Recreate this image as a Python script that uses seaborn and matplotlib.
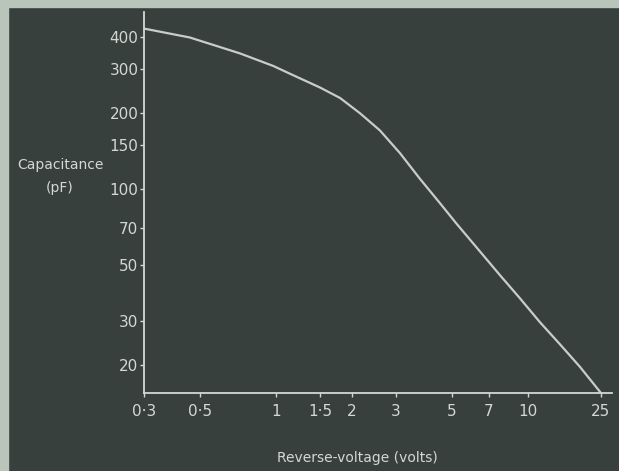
import numpy as np
import matplotlib
matplotlib.use("Agg")
import matplotlib.pyplot as plt
import seaborn as sns
from matplotlib.patches import Rectangle

# values (volts, pF)
voltage = [0.3, 0.456, 0.72, 0.98, 1.14, 1.5, 1.8, 2.16, 2.59, 3.11, 3.73,
           4.48, 5.21, 7.76, 9.32, 11.65, 14.96, 19.2, 25.0]
capacitance = [434, 400, 346, 308, 287, 253, 230, 200, 171, 139, 110,
               88, 73, 45.5, 36.8, 29.6, 24.2, 19.7, 15.5]

xticks = [0.3, 0.5, 1, 1.5, 2, 3, 5, 7, 10, 25]
xticklabels = ["0·3", "0·5", "1", "1·5", "2", "3", "5", "7", "10", "25"]
yticks = [20, 30, 50, 70, 100, 150, 200, 300, 400]
yticklabels = ["20", "30", "50", "70", "100", "150", "200", "300", "400"]

bg = "#37403c"
fg = "#d4d8d4"

sns.set_style("white")
plt.rcParams["font.family"] = ["DejaVu Sans"]

fig = plt.figure(figsize=(6.19, 4.71), dpi=100, facecolor=bg)
# pale card edge along the left and top of the scan
fig.patches.append(Rectangle((0, 0), 8 / 619, 1, transform=fig.transFigure,
                             color="#b9c4bb", zorder=0))
fig.patches.append(Rectangle((0, 1 - 7 / 471), 1, 7 / 471, transform=fig.transFigure,
                             color="#b9c4bb", zorder=0))

ax = fig.add_axes([144 / 619, 1 - 393 / 471, (612 - 144) / 619, (393 - 12) / 471])
ax.set_facecolor(bg)

sns.lineplot(x=voltage, y=capacitance, ax=ax, color="#c9cdc9", linewidth=1.6)


# the voltage axis is log up to 10 V, then squeezed to fit 25 V on the plate
def fwd(v):
    lv = np.log10(np.maximum(v, 1e-9))
    return np.where(lv <= 1, lv, 1 + 0.73 * (lv - 1))


def inv(u):
    return np.where(u <= 1, 10 ** u, 10 ** (1 + (u - 1) / 0.73))


ax.set_xscale("function", functions=(fwd, inv))
ax.set_yscale("log")
ax.set_xlim(0.3, 28.7)
ax.set_ylim(15.5, 505)

ax.set_xticks(xticks)
ax.set_xticklabels(xticklabels)
ax.set_yticks(yticks)
ax.set_yticklabels(yticklabels)
ax.minorticks_off()

for side in ["top", "right"]:
    ax.spines[side].set_visible(False)
for side in ["left", "bottom"]:
    ax.spines[side].set_color(fg)
    ax.spines[side].set_linewidth(1.3)

ax.tick_params(axis="both", colors=fg, labelcolor=fg, labelsize=11,
               length=3, width=1, direction="out", left=True, bottom=True)
ax.tick_params(axis="y", pad=1)
ax.tick_params(axis="x", pad=5)

fig.text(60 / 619, 1 - 165 / 471, "Capacitance", color=fg, fontsize=10,
         ha="center", va="center")
fig.text(60 / 619, 1 - 188 / 471, "(pF)", color=fg, fontsize=10,
         ha="center", va="center")
fig.text(357 / 619, 1 - 458 / 471, "Reverse-voltage (volts)", color=fg,
         fontsize=10, ha="center", va="center")

fig.savefig("out.png", dpi=100, facecolor=bg)
